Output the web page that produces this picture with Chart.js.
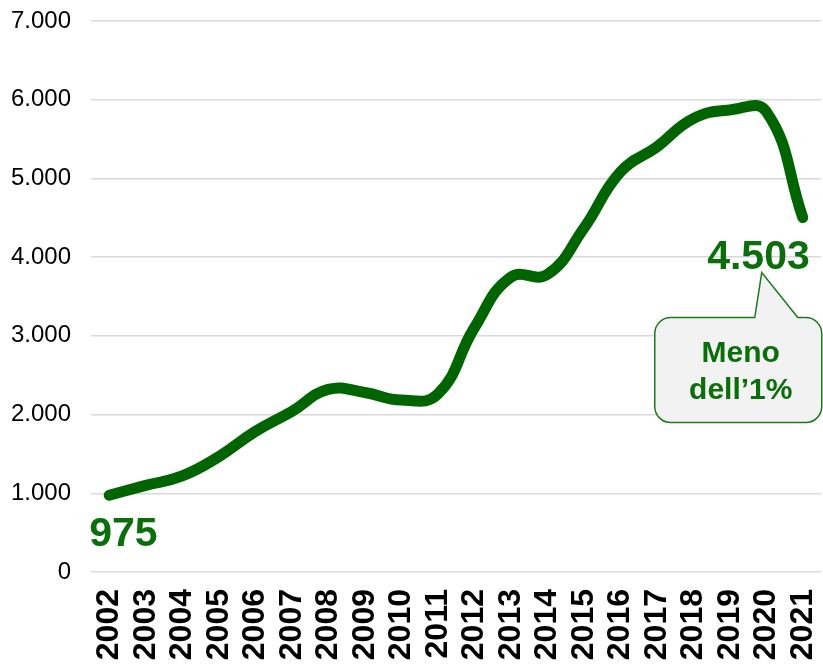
<!DOCTYPE html>
<html>
<head>
<meta charset="utf-8">
<script src="https://cdn.jsdelivr.net/npm/chart.js@4/dist/chart.umd.min.js"></script>
<style>
html,body{margin:0;padding:0;background:#fff;}
#wrap{width:823px;height:664px;}
</style>
</head>
<body>
<div id="wrap"><canvas id="c" width="823" height="664"></canvas></div>
<script>
const years = ['2002','2003','2004','2005','2006','2007','2008','2009','2010','2011','2012','2013','2014','2015','2016','2017','2018','2019','2020','2021'];
const values = [975, 1100, 1220, 1465, 1785, 2040, 2320, 2280, 2185, 2260, 3100, 3745, 3780, 4365, 5080, 5400, 5760, 5870, 5850, 4503];
const yTickLabels = ['0','1.000','2.000','3.000','4.000','5.000','6.000','7.000'];
const firstLabel = '975';
const lastLabel = '4.503';
const calloutLines = ['Meno', 'dell\u20191%'];

const GREEN = '#006400';
const TEXT_GREEN = '#0a6e0a';
const FONT = '"Liberation Sans", Arial, sans-serif';

const annotPlugin = {
  id: 'annot',
  afterDatasetsDraw(chart) {
    const ctx = chart.ctx;
    const meta = chart.getDatasetMeta(0);
    const p0 = meta.data[0];
    const pN = meta.data[meta.data.length - 1];
    ctx.save();
    ctx.fillStyle = TEXT_GREEN;
    ctx.font = 'bold 41px ' + FONT;
    ctx.textBaseline = 'middle';
    ctx.textAlign = 'left';
    ctx.fillText(firstLabel, p0.x - 20, p0.y + 39);
    ctx.textAlign = 'right';
    ctx.fillText(lastLabel, pN.x + 7, pN.y + 40);

    // callout box
    const bx = pN.x - 148, by = pN.y + 100, bw = 167, bh = 105, r = 16;
    const tipX = pN.x - 41, tipY = pN.y + 55;
    const baseL = pN.x - 48, baseR = pN.x - 5;
    ctx.beginPath();
    ctx.moveTo(bx + r, by);
    ctx.lineTo(baseL, by);
    ctx.lineTo(tipX, tipY);
    ctx.lineTo(baseR, by);
    ctx.lineTo(bx + bw - r, by);
    ctx.arcTo(bx + bw, by, bx + bw, by + r, r);
    ctx.lineTo(bx + bw, by + bh - r);
    ctx.arcTo(bx + bw, by + bh, bx + bw - r, by + bh, r);
    ctx.lineTo(bx + r, by + bh);
    ctx.arcTo(bx, by + bh, bx, by + bh - r, r);
    ctx.lineTo(bx, by + r);
    ctx.arcTo(bx, by, bx + r, by, r);
    ctx.closePath();
    ctx.fillStyle = '#f2f2f2';
    ctx.fill();
    ctx.lineWidth = 1.5;
    ctx.strokeStyle = '#1a7a1a';
    ctx.stroke();

    ctx.fillStyle = TEXT_GREEN;
    ctx.font = 'bold 30px ' + FONT;
    ctx.textAlign = 'center';
    ctx.textBaseline = 'middle';
    const cx = bx + 86;
    ctx.fillText(calloutLines[0], cx, by + 36);
    ctx.fillText(calloutLines[1], cx, by + 73);
    ctx.restore();
  }
};

new Chart(document.getElementById('c'), {
  type: 'line',
  data: {
    labels: years,
    datasets: [{
      data: values,
      borderColor: GREEN,
      borderWidth: 11,
      borderCapStyle: 'round',
      borderJoinStyle: 'round',
      pointRadius: 0,
      tension: 0.45,
      fill: false
    }]
  },
  options: {
    responsive: false,
    animation: false,
    layout: { padding: { top: 21, right: 2, left: 0, bottom: 0 } },
    plugins: { legend: { display: false }, tooltip: { enabled: false } },
    scales: {
      x: {
        offset: true,
        grid: { display: false, drawTicks: false },
        border: { display: false },
        ticks: {
          autoSkip: false,
          maxRotation: 90,
          minRotation: 90,
          padding: 17,
          color: '#000',
          font: { family: FONT, size: 32, weight: 'bold' }
        },
        afterFit(scale) {
          scale.height = 92;
          scale.paddingLeft = 0; scale.paddingRight = 0;
          scale.paddingTop = 0; scale.paddingBottom = 0;
        }
      },
      y: {
        min: 0,
        max: 7000,
        grid: { color: '#d9d9d9', lineWidth: 1.5, drawTicks: false },
        border: { display: false },
        ticks: {
          stepSize: 1000,
          padding: 20,
          color: '#000',
          font: { family: FONT, size: 24 },
          callback: (v) => yTickLabels[Math.round(v / 1000)]
        },
        afterFit(scale) {
          scale.width = 91;
          scale.paddingTop = 0; scale.paddingBottom = 0;
          scale.paddingLeft = 0; scale.paddingRight = 0;
        }
      }
    }
  },
  plugins: [annotPlugin]
});
</script>
</body>
</html>
